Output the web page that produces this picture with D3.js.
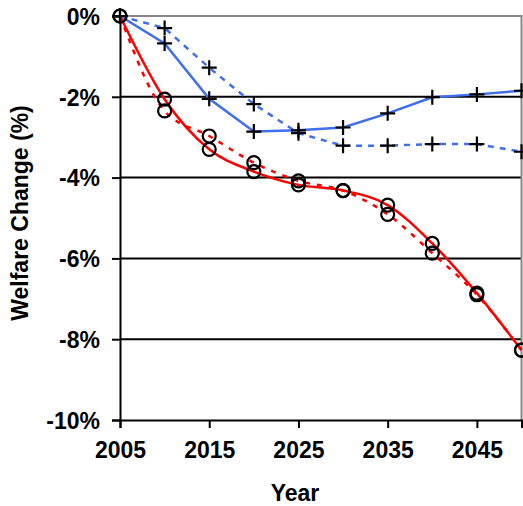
<!DOCTYPE html>
<html>
<head>
<meta charset="utf-8">
<style>
  body { margin: 0; background: #fff; }
  text { font-family: Arial, "Liberation Sans", sans-serif; font-weight: bold; fill: #000; }
</style>
</head>
<body>
<div id="container"></div>
<script src="https://d3js.org/d3.v7.min.js"></script>
<script>
  // years on the x axis
  const years = [2005, 2010, 2015, 2020, 2025, 2030, 2035, 2040, 2045, 2050]
  // welfare change in percent
  const blueSolid = [0, -0.68, -2.05, -2.86, -2.83, -2.76, -2.41, -2.01, -1.94, -1.85]
  const blueDashed = [0, -0.30, -1.28, -2.18, -2.90, -3.21, -3.21, -3.17, -3.17, -3.36]
  const redSolid = [0, -2.06, -3.30, -3.85, -4.18, -4.32, -4.68, -5.63, -6.86, -8.27]
  const redDashed = [0, -2.35, -2.97, -3.63, -4.08, -4.32, -4.91, -5.87, -6.90, -8.27]
  // tick labels
  const xTicks = [2005, 2015, 2025, 2035, 2045]
  const yTicks = [0, -2, -4, -6, -8, -10]

  const svg = d3.select('#container').append('svg')
    .attr('width', 523).attr('height', 506)

  const x = d3.scaleLinear().domain([2005, 2050]).range([120, 521.5])
  const y = d3.scaleLinear().domain([-10, 0]).range([420, 16])

  // grid lines
  svg.selectAll('.grid')
    .data(yTicks.filter(t => t < 0 && t > -10))
    .enter().append('line')
    .attr('x1', x(2005)).attr('x2', x(2050))
    .attr('y1', d => y(d)).attr('y2', d => y(d))
    .attr('stroke', '#000').attr('stroke-width', 2)

  // grey frame on top and right
  svg.append('path')
    .attr('d', `M${x(2005)},${y(0)}H${x(2050)}V${y(-10)}`)
    .attr('fill', 'none').attr('stroke', '#888').attr('stroke-width', 2)

  // axes
  const yAxis = svg.append('g')
    .attr('transform', `translate(${x(2005)},0)`)
    .call(d3.axisLeft(y).tickValues(yTicks).tickFormat(d => d + '%').tickSize(8).tickPadding(12))
  const xAxis = svg.append('g')
    .attr('transform', `translate(0,${y(-10)})`)
    .call(d3.axisBottom(x).tickValues(xTicks).tickFormat(d3.format('d')).tickSize(8).tickPadding(14))

  ;[yAxis, xAxis].forEach(g => {
    g.select('.domain').attr('stroke', '#000').attr('stroke-width', 2)
    g.selectAll('.tick line').attr('stroke', '#000').attr('stroke-width', 2)
    g.selectAll('.tick text').attr('font-size', 23)
      .attr('font-family', 'Arial, "Liberation Sans", sans-serif').attr('font-weight', 'bold')
  })
  yAxis.selectAll('.tick text').attr('dy', '0.36em')

  // axis titles
  svg.append('text')
    .attr('x', 295).attr('y', 501)
    .attr('text-anchor', 'middle').attr('font-size', 23)
    .text('Year')
  svg.append('text')
    .attr('transform', 'translate(28,213) rotate(-90)')
    .attr('text-anchor', 'middle').attr('font-size', 23)
    .text('Welfare Change (%)')

  // lines
  const series = [
    { values: blueSolid, color: '#3f6fef', dash: null, curve: d3.curveLinear, marker: 'plus' },
    { values: blueDashed, color: '#3f6fef', dash: '6,6', curve: d3.curveLinear, marker: 'plus' },
    { values: redSolid, color: '#ff0000', dash: null, curve: d3.curveMonotoneX, marker: 'circle' },
    { values: redDashed, color: '#ff0000', dash: '5,7', curve: d3.curveMonotoneX, marker: 'circle' }
  ]

  series.forEach(s => {
    const line = d3.line()
      .x((d, i) => x(years[i]))
      .y(d => y(d))
      .curve(s.curve)
    svg.append('path')
      .datum(s.values)
      .attr('d', line)
      .attr('fill', 'none')
      .attr('stroke', s.color)
      .attr('stroke-width', 2.5)
      .attr('stroke-dasharray', s.dash)
  })

  // markers
  series.forEach(s => {
    const g = svg.append('g')
    if (s.marker === 'plus') {
      g.selectAll('path').data(s.values).enter().append('path')
        .attr('d', (d, i) => `M${x(years[i]) - 7.5},${y(d)}h15M${x(years[i])},${y(d) - 7.5}v15`)
        .attr('stroke', '#000').attr('stroke-width', 2.2).attr('fill', 'none')
    } else {
      g.selectAll('circle').data(s.values).enter().append('circle')
        .attr('cx', (d, i) => x(years[i]))
        .attr('cy', d => y(d))
        .attr('r', 6.5)
        .attr('stroke', '#000').attr('stroke-width', 2.2).attr('fill', 'none')
    }
  })
</script>
</body>
</html>
